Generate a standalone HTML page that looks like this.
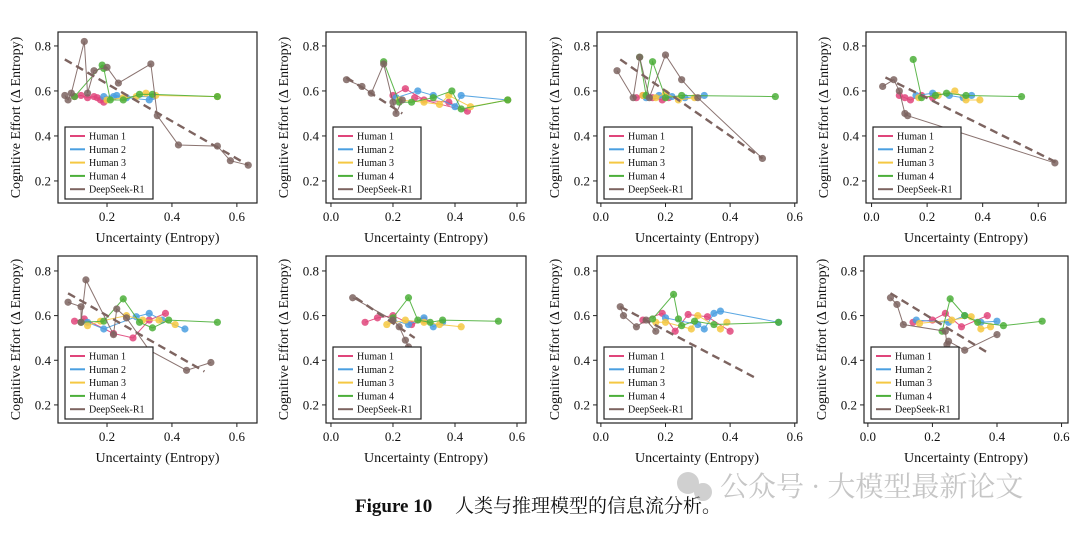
<!DOCTYPE html>
<html><head><meta charset="utf-8">
<style>
body{margin:0;background:#fff;width:1080px;height:530px;overflow:hidden;font-family:"Liberation Serif","Noto Serif CJK SC",serif;}
svg text{font-family:"Liberation Serif","Noto Serif CJK SC",serif;}
</style></head><body>
<svg id="fig" width="1080" height="530" xmlns="http://www.w3.org/2000/svg">
<g>
<text x="355" y="512" font-size="19" font-weight="bold" fill="#111" font-family="Liberation Serif">Figure 10</text>
<text x="455" y="512" font-size="19" fill="#111" font-family="Noto Serif CJK SC, serif">人类与推理模型的信息流分析。</text>
</g>
<g opacity="0.55">
<circle cx="688" cy="483" r="11" fill="#aaa"/><circle cx="703" cy="492" r="9" fill="#aaa"/>
<text x="720" y="496" font-size="28" fill="#999" font-family="Noto Sans CJK SC, sans-serif">公众号 · 大模型最新论文</text>
</g>
</svg>
<script>
const yTicks=[0.2,0.4,0.6,0.8];
const seriesNames=["Human 1","Human 2","Human 3","Human 4","DeepSeek-R1"];
const colors=["#e0457b","#4a9fe0","#f5c842","#4caf3a","#7d6460"];
const p1h1=[[0.1,0.575],[0.12,0.58],[0.14,0.57],[0.16,0.575],[0.18,0.56],[0.19,0.55],[0.17,0.57]];
const p1h2=[[0.19,0.575],[0.23,0.58],[0.26,0.57],[0.33,0.56],[0.34,0.575],[0.22,0.575]];
const p1h3=[[0.2,0.56],[0.25,0.57],[0.29,0.575],[0.32,0.59],[0.35,0.58],[0.54,0.575]];
const p1h4=[[0.1,0.575],[0.185,0.715],[0.19,0.7],[0.21,0.56],[0.25,0.56],[0.3,0.585],[0.34,0.585],[0.54,0.575]];
const p1ds=[[0.07,0.58],[0.08,0.56],[0.09,0.59],[0.13,0.82],[0.14,0.59],[0.16,0.69],[0.2,0.705],[0.235,0.635],[0.335,0.72],[0.355,0.49],[0.42,0.36],[0.54,0.355],[0.58,0.29],[0.635,0.27]];
const p1tr=[[0.07,0.74],[0.635,0.27]];

const p2h1=[[0.2,0.58],[0.24,0.61],[0.3,0.56],[0.38,0.55],[0.44,0.51],[0.27,0.57]];
const p2h2=[[0.21,0.57],[0.28,0.6],[0.33,0.58],[0.4,0.53],[0.42,0.58],[0.57,0.56]];
const p2h3=[[0.22,0.56],[0.3,0.55],[0.35,0.54],[0.38,0.58],[0.45,0.53],[0.57,0.56]];
const p2h4=[[0.17,0.73],[0.22,0.55],[0.26,0.55],[0.33,0.57],[0.39,0.6],[0.42,0.52],[0.57,0.56]];
const p2ds=[[0.05,0.65],[0.1,0.62],[0.13,0.59],[0.17,0.72],[0.2,0.55],[0.21,0.5],[0.23,0.56]];
const p2tr=[[0.05,0.66],[0.23,0.5]];

const p3h1=[[0.11,0.57],[0.13,0.58],[0.16,0.57],[0.19,0.56],[0.21,0.57]];
const p3h2=[[0.14,0.57],[0.18,0.58],[0.22,0.575],[0.26,0.57],[0.32,0.58]];
const p3h3=[[0.13,0.58],[0.17,0.57],[0.2,0.59],[0.24,0.56],[0.29,0.57]];
const p3h4=[[0.12,0.75],[0.14,0.58],[0.16,0.73],[0.2,0.57],[0.25,0.58],[0.54,0.575]];
const p3ds=[[0.05,0.69],[0.1,0.57],[0.12,0.75],[0.15,0.57],[0.2,0.76],[0.25,0.65],[0.3,0.57],[0.5,0.3]];
const p3tr=[[0.06,0.74],[0.5,0.3]];

const p4h1=[[0.1,0.58],[0.12,0.57],[0.14,0.56],[0.18,0.58],[0.22,0.57]];
const p4h2=[[0.16,0.58],[0.22,0.59],[0.28,0.58],[0.33,0.57],[0.36,0.58]];
const p4h3=[[0.17,0.57],[0.24,0.58],[0.3,0.6],[0.34,0.56],[0.39,0.56]];
const p4h4=[[0.15,0.74],[0.18,0.57],[0.23,0.58],[0.27,0.59],[0.34,0.58],[0.54,0.575]];
const p4ds=[[0.04,0.62],[0.08,0.65],[0.1,0.6],[0.12,0.5],[0.13,0.49],[0.66,0.28]];
const p4tr=[[0.05,0.66],[0.67,0.28]];

const p5h1=[[0.1,0.575],[0.13,0.585],[0.22,0.52],[0.28,0.5],[0.33,0.58],[0.38,0.61]];
const p5h2=[[0.14,0.57],[0.19,0.54],[0.29,0.595],[0.33,0.61],[0.37,0.58],[0.44,0.54]];
const p5h3=[[0.14,0.555],[0.18,0.575],[0.26,0.6],[0.31,0.58],[0.36,0.58],[0.41,0.56]];
const p5h4=[[0.12,0.57],[0.19,0.575],[0.25,0.675],[0.3,0.57],[0.34,0.545],[0.39,0.58],[0.54,0.57]];
const p5ds=[[0.08,0.66],[0.12,0.64],[0.12,0.57],[0.135,0.76],[0.22,0.515],[0.23,0.63],[0.26,0.59],[0.33,0.445],[0.445,0.355],[0.52,0.39]];
const p5tr=[[0.08,0.7],[0.5,0.35]];

const p6h1=[[0.11,0.57],[0.15,0.59],[0.2,0.6],[0.26,0.56],[0.3,0.58]];
const p6h2=[[0.2,0.58],[0.25,0.56],[0.3,0.59],[0.33,0.55],[0.36,0.57]];
const p6h3=[[0.18,0.56],[0.24,0.58],[0.3,0.57],[0.35,0.56],[0.42,0.55]];
const p6h4=[[0.2,0.59],[0.25,0.68],[0.28,0.58],[0.32,0.57],[0.36,0.58],[0.54,0.575]];
const p6ds=[[0.07,0.68],[0.2,0.58],[0.22,0.55],[0.24,0.49],[0.25,0.46]];
const p6tr=[[0.08,0.68],[0.27,0.5]];

const p7h1=[[0.13,0.58],[0.19,0.61],[0.23,0.53],[0.27,0.605],[0.33,0.595],[0.4,0.53]];
const p7h2=[[0.2,0.59],[0.3,0.56],[0.32,0.54],[0.35,0.61],[0.37,0.62],[0.55,0.57]];
const p7h3=[[0.17,0.57],[0.2,0.57],[0.28,0.54],[0.3,0.6],[0.37,0.54],[0.39,0.57]];
const p7h4=[[0.16,0.585],[0.225,0.695],[0.24,0.585],[0.25,0.555],[0.29,0.575],[0.35,0.56],[0.55,0.57]];
const p7ds=[[0.06,0.64],[0.07,0.6],[0.11,0.55],[0.14,0.58],[0.17,0.53]];
const p7tr=[[0.06,0.64],[0.48,0.32]];

const p8h1=[[0.14,0.57],[0.2,0.58],[0.24,0.61],[0.29,0.55],[0.37,0.6]];
const p8h2=[[0.15,0.58],[0.25,0.57],[0.3,0.6],[0.35,0.57],[0.4,0.575]];
const p8h3=[[0.16,0.565],[0.26,0.58],[0.32,0.595],[0.35,0.54],[0.38,0.55]];
const p8h4=[[0.23,0.53],[0.255,0.675],[0.3,0.6],[0.34,0.57],[0.42,0.555],[0.54,0.575]];
const p8ds=[[0.07,0.68],[0.09,0.65],[0.11,0.56],[0.24,0.53],[0.245,0.47],[0.25,0.485],[0.3,0.445],[0.4,0.515]];
const p8tr=[[0.07,0.7],[0.37,0.435]];

const xTicksA=[0.2,0.4,0.6];
const xTicksB=[0.0,0.2,0.4,0.6];
const xTickLabelsA=["0.2","0.4","0.6"];
const xTickLabelsB=["0.0","0.2","0.4","0.6"];

const panels=[
 {l:58,r:257,t:32,b:203,x0:0.049,x1:0.662,y0:0.102,y1:0.862,xt:xTicksA,xl:xTickLabelsA,s:[p1h1,p1h2,p1h3,p1h4,p1ds],tr:p1tr},
 {l:326,r:526,t:32,b:203,x0:-0.016,x1:0.629,y0:0.102,y1:0.862,xt:xTicksB,xl:xTickLabelsB,s:[p2h1,p2h2,p2h3,p2h4,p2ds],tr:p2tr},
 {l:597,r:797,t:32,b:203,x0:-0.012,x1:0.607,y0:0.102,y1:0.862,xt:xTicksB,xl:xTickLabelsB,s:[p3h1,p3h2,p3h3,p3h4,p3ds],tr:p3tr},
 {l:866,r:1066,t:32,b:203,x0:-0.02,x1:0.7,y0:0.102,y1:0.862,xt:xTicksB,xl:xTickLabelsB,s:[p4h1,p4h2,p4h3,p4h4,p4ds],tr:p4tr},
 {l:58,r:257,t:256,b:423,x0:0.049,x1:0.662,y0:0.119,y1:0.867,xt:xTicksA,xl:xTickLabelsA,s:[p5h1,p5h2,p5h3,p5h4,p5ds],tr:p5tr},
 {l:326,r:526,t:256,b:423,x0:-0.016,x1:0.629,y0:0.119,y1:0.867,xt:xTicksB,xl:xTickLabelsB,s:[p6h1,p6h2,p6h3,p6h4,p6ds],tr:p6tr},
 {l:597,r:797,t:256,b:423,x0:-0.012,x1:0.607,y0:0.119,y1:0.867,xt:xTicksB,xl:xTickLabelsB,s:[p7h1,p7h2,p7h3,p7h4,p7ds],tr:p7tr},
 {l:864,r:1068,t:256,b:423,x0:-0.012,x1:0.62,y0:0.119,y1:0.867,xt:xTicksB,xl:xTickLabelsB,s:[p8h1,p8h2,p8h3,p8h4,p8ds],tr:p8tr}
];
const NS="http://www.w3.org/2000/svg";
const svg=document.getElementById('fig');
function mk(tag,attrs,parent){const e=document.createElementNS(NS,tag);for(const k in attrs)e.setAttribute(k,attrs[k]);parent.appendChild(e);return e;}
panels.forEach((p,pi)=>{
 const g=mk('g',{},svg);
 
 
 const X=v=>p.l+(v-p.x0)/(p.x1-p.x0)*(p.r-p.l);
 const Y=v=>p.b-(v-p.y0)/(p.y1-p.y0)*(p.b-p.t);
 p.s.forEach((pts,si)=>{
  const sg=mk('g',{},g);
  
  
  mk('polyline',{points:pts.map(q=>X(q[0])+','+Y(q[1])).join(' '),fill:'none',stroke:colors[si],'stroke-width':1,opacity:0.9},sg);
  pts.forEach(q=>{const c=mk('circle',{cx:X(q[0]),cy:Y(q[1]),r:3.6,fill:colors[si],opacity:0.85},sg);
   
   });
 });
 const tl=mk('line',{x1:X(p.tr[0][0]),y1:Y(p.tr[0][1]),x2:X(p.tr[1][0]),y2:Y(p.tr[1][1]),stroke:'#7d6460','stroke-width':2.4,'stroke-dasharray':'8 5'},g);
 
 
 const fr=mk('rect',{x:p.l,y:p.t,width:p.r-p.l,height:p.b-p.t,fill:'none',stroke:'#222','stroke-width':1.2},g);
 
 
 yTicks.forEach(v=>{mk('line',{x1:p.l-4,x2:p.l,y1:Y(v),y2:Y(v),stroke:'#222'},g);
  const t=mk('text',{x:p.l-7,y:Y(v)+4.5,'font-size':13,'text-anchor':'end',fill:'#111'},g);t.textContent=v.toFixed(1);
  
  });
 p.xt.forEach((v,i)=>{mk('line',{x1:X(v),x2:X(v),y1:p.b,y2:p.b+4,stroke:'#222'},g);
  const t=mk('text',{x:X(v),y:p.b+18,'font-size':13,'text-anchor':'middle',fill:'#111'},g);t.textContent=p.xl[i];
  
  });
 const xt=mk('text',{x:(p.l+p.r)/2,y:p.b+39,'font-size':14,'text-anchor':'middle',fill:'#111'},g);xt.textContent='Uncertainty (Entropy)';
 
 
 const cy=(p.t+p.b)/2, cx=p.l-38;
 const yt=mk('text',{x:cx,y:cy,'font-size':14,'text-anchor':'middle',fill:'#111',transform:'rotate(-90 '+cx+' '+cy+')'},g);yt.textContent='Cognitive Effort (Δ Entropy)';
 
 
 const lg=mk('g',{},g);
 
 
 const lx=p.l+7, ly=p.b-76;
 mk('rect',{x:lx,y:ly,width:88,height:72,fill:'#fff',stroke:'#222','stroke-width':1.2},lg);
 seriesNames.forEach((n,i)=>{const yy=ly+9+i*13.3;
  mk('line',{x1:lx+5,x2:lx+20,y1:yy,y2:yy,stroke:colors[i],'stroke-width':2},lg);
  const t=mk('text',{x:lx+24,y:yy+3.5,'font-size':10,fill:'#111'},lg);t.textContent=n;
  
  });
});
</script>
</body></html>
